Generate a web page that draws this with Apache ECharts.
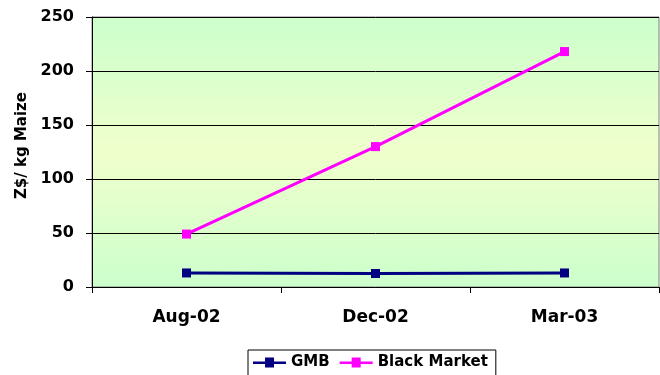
<!DOCTYPE html>
<html lang="en">
<head>
<meta charset="UTF-8">
<script src="https://cdn.jsdelivr.net/npm/echarts@6/dist/echarts.min.js"></script>
<title>Maize price</title>
<style>html,body{margin:0;padding:0;background:#fff}</style>
</head>
<body>
<div id="main" style="width:660px;height:375px;"></div>
<script>
    var months = ['Aug-02', 'Dec-02', 'Mar-03'];
    var gmb = [13, 12.5, 13];
    var blackMarket = [49, 130, 218];
    var yTicks = [0, 50, 100, 150, 200, 250];

    var chart = echarts.init(document.getElementById('main'));
    var font = '"DejaVu Sans", Arial, sans-serif';
    var legendIcon = 'path://M0,4 L12,4 L12,0 L21,0 L21,4 L33,4 L33,6.5 L21,6.5 L21,10 L12,10 L12,6.5 L0,6.5 Z';

    var option = {
        animation: false,
        grid: {
            left: 92, right: 1, top: 17, bottom: 88,
            show: true,
            borderColor: '#808080',
            borderWidth: 1,
            backgroundColor: {
                type: 'linear', x: 0, y: 0, x2: 0, y2: 1,
                colorStops: [
                    {offset: 0, color: '#ccffcc'},
                    {offset: 0.5, color: '#efffcc'},
                    {offset: 1, color: '#ccffcc'}
                ]
            }
        },
        legend: {
            bottom: -3,
            left: 248,
            itemWidth: 33,
            itemHeight: 10,
            itemGap: 10,
            padding: [5, 8, 8, 5],
            borderColor: '#000',
            borderWidth: 1,
            textStyle: {fontFamily: font, fontWeight: 'bold', fontSize: 15, color: '#000'},
            data: [
                {name: 'GMB', icon: legendIcon},
                {name: 'Black Market', icon: legendIcon}
            ]
        },
        xAxis: {
            type: 'category',
            data: months,
            boundaryGap: true,
            axisLine: {lineStyle: {color: '#000', width: 1}},
            axisTick: {show: true, length: 6, lineStyle: {color: '#000'}},
            axisLabel: {fontFamily: font, fontWeight: 'bold', fontSize: 17, color: '#000', margin: 22}
        },
        yAxis: {
            type: 'value',
            min: yTicks[0],
            max: yTicks[yTicks.length - 1],
            interval: 50,
            name: 'Z$/ kg Maize',
            nameLocation: 'middle',
            nameGap: 60,
            nameTextStyle: {fontFamily: font, fontWeight: 'bold', fontSize: 15, color: '#000', padding: [0, 0, 0, 13]},
            axisLine: {show: true, lineStyle: {color: '#000', width: 1}},
            axisTick: {show: true, length: 6, lineStyle: {color: '#000'}},
            axisLabel: {fontFamily: font, fontWeight: 'bold', fontSize: 16, color: '#000', margin: 18},
            splitLine: {show: true, lineStyle: {color: '#000', width: 1}}
        },
        series: [
            {
                name: 'GMB',
                type: 'line',
                data: gmb,
                symbol: 'rect',
                symbolSize: 9,
                color: '#000080',
                lineStyle: {width: 3, color: '#000080'},
                itemStyle: {color: '#000080'}
            },
            {
                name: 'Black Market',
                type: 'line',
                data: blackMarket,
                symbol: 'rect',
                symbolSize: 9,
                color: '#ff00ff',
                lineStyle: {width: 3, color: '#ff00ff'},
                itemStyle: {color: '#ff00ff'}
            }
        ]
    };
    chart.setOption(option);
</script>
</body>
</html>
